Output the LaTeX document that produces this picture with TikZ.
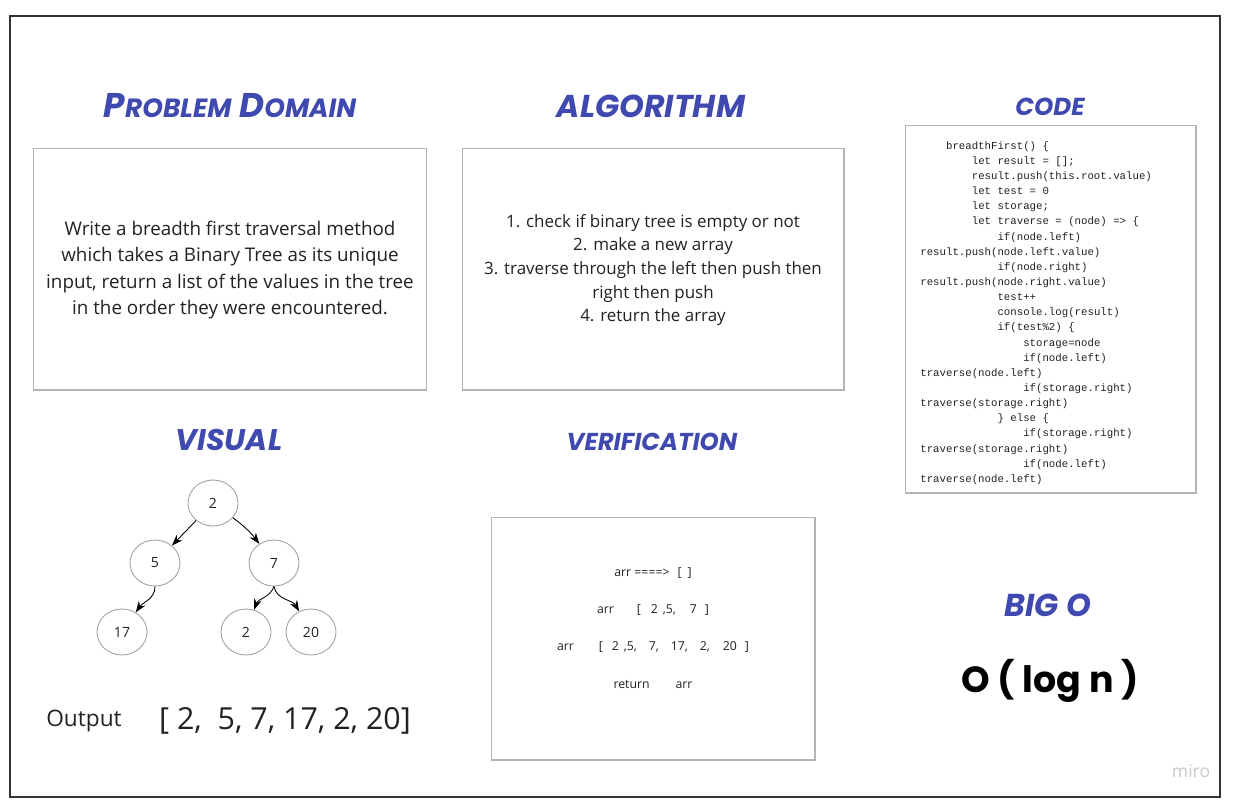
\documentclass[tikz,border=0pt]{standalone}
\usepackage{fontspec}
\setmainfont{Open Sans}
\setmonofont{Liberation Mono}
\newfontfamily\markerfont{Poppins}
\usetikzlibrary{arrows.meta,positioning,shapes.geometric}
\definecolor{boardInk}{HTML}{4049B0}
\definecolor{boardLine}{HTML}{B3B3B3}
\definecolor{boardFrame}{HTML}{333333}
\definecolor{boardText}{HTML}{222222}
\definecolor{boardMiro}{HTML}{C8C8C8}
\newcommand\codeind[1]{\hspace*{#1\fontcharwd\font`0}}
\newcommand\capsmall[1]{{\fontsize{15}{17}\selectfont #1}}
\newcommand\gap[1]{\hspace*{#1\dimexpr 0.567pt\relax}}

\begin{document}
\begin{tikzpicture}[x=0.02cm, y=-0.02cm]
\tikzset{card/.style={rectangle, draw=boardLine, fill=white, line width=0.6pt, inner sep=0pt},
 heading/.style={font=\markerfont\bfseries\itshape\fontsize{18}{20}\selectfont, text=boardInk, inner sep=0pt},
 bodytext/.style={font=\fontsize{10.7}{14.9}\selectfont, text=boardText, align=center},
 treenode/.style={ellipse, draw=boardLine!90!black, line width=0.5pt, minimum width=1.0cm,
   minimum height=0.92cm, inner sep=0pt, font=\fontsize{8}{9}\selectfont, text=boardText},
 arr/.style={-{Stealth[length=2.2mm, width=1.6mm]}, line width=0.5pt, draw=black}}

% board and frame
\useasboundingbox (0,0) rectangle (1239,806);
\draw[boardFrame, line width=1.1pt] (10,16) rectangle (1220,797);

% problem domain
\node[card, minimum width=7.88cm, minimum height=4.84cm] (pdbox) at (230,269) {};
\node[bodytext] (pdtext) at (230,270) {Write a breadth first traversal method\\
  which takes a Binary Tree as its unique\\
  input, return a list of the values in the tree\\
  in the order they were encountered.};
\node[heading, font=\markerfont\bfseries\itshape\fontsize{19.5}{21}\selectfont] (pdhead) at (230,106) {P\capsmall{ROBLEM} D\capsmall{OMAIN}};

% algorithm
\node[card, minimum width=7.64cm, minimum height=4.84cm] (algbox) at (653,269) {};
\node[bodytext, font=\fontsize{9.65}{13.4}\selectfont] (algtext) at (653,270) {1. check if binary tree is empty or not\\
  2. make a new array\\
  3. traverse through the left then push then\\
  right then push\\
  4. return the array};
\node[heading] (alghead) at (651,106) {ALGORITHM};

% code
\node[card, minimum width=5.82cm, minimum height=7.36cm] (codebox) at (1050.5,309) {};
\node[anchor=north west, align=left, inner sep=0pt, text=boardText,
  font=\ttfamily\fontsize{6.1}{8.62}\selectfont] (codetext) at (920,141) {%
\codeind{4}breadthFirst() \{\\
\codeind{8}let result = [];\\
\codeind{8}result.push(this.root.value)\\
\codeind{8}let test = 0\\
\codeind{8}let storage;\\
\codeind{8}let traverse = (node) => \{\\
\codeind{12}if(node.left)\\
result.push(node.left.value)\\
\codeind{12}if(node.right)\\
result.push(node.right.value)\\
\codeind{12}test++\\
\codeind{12}console.log(result)\\
\codeind{12}if(test\%2) \{\\
\codeind{16}storage=node\\
\codeind{16}if(node.left)\\
traverse(node.left)\\
\codeind{16}if(storage.right)\\
traverse(storage.right)\\
\codeind{12}\} else \{\\
\codeind{16}if(storage.right)\\
traverse(storage.right)\\
\codeind{16}if(node.left)\\
traverse(node.left)};
\node[heading, font=\markerfont\bfseries\itshape\fontsize{14}{16}\selectfont] (codehead) at (1050,107) {CODE};

% visual
\node[heading, font=\markerfont\bfseries\itshape\fontsize{17}{19}\selectfont] (vishead) at (229,440) {VISUAL};
\node[treenode] (t2) at (213,503) {2};
\node[treenode] (t5) at (155,563) {5};
\node[treenode] (t7) at (274,563) {7};
\node[treenode] (t17) at (122,632) {17};
\node[treenode] (t2b) at (246,632) {2};
\node[treenode] (t20) at (311,632) {20};
\draw[arr] (t2) -- (t5);
\draw[arr] (t2) to[bend left=8] (t7);
\draw[arr] (t5.south) to[out=-90, in=55] (t17);
\draw[arr] (t7.south) to[out=-110, in=70] (t2b);
\draw[arr] (t7.south) to[out=-80, in=120] (t20);
\node[text=boardText, font=\fontsize{12.9}{15}\selectfont] (outlabel) at (84,721) {Output};
\node[text=boardText, font=\fontsize{17.3}{20}\selectfont] (outvalue) at (285,721) {[ 2,\ \ 5, 7, 17, 2, 20]};

% verification
\node[card, minimum width=6.48cm, minimum height=4.86cm] (verbox) at (653,638.5) {};
\node[heading, font=\markerfont\bfseries\itshape\fontsize{13.9}{16}\selectfont] (verhead) at (652,442) {VERIFICATION};
\node[bodytext, font=\fontsize{7}{21.2}\selectfont] (vertext) at (653,628) {arr ====>\gap{8}[\gap{6}]\\
  arr\gap{23}[\gap{10}2\gap{5},5,\gap{14}7\gap{8}]\\
  arr\gap{25}[\gap{9}2\gap{5},5,\gap{12}7,\gap{12}17,\gap{12}2,\gap{13}20\gap{8}]\\
  return\gap{26}arr};

% big o
\node[heading] (bighead) at (1048,605) {BIG O};
\node[font=\markerfont\bfseries\fontsize{20.7}{24}\selectfont, text=black] (bigo) at (1050,681) {O ( log n )};

\node[text=boardMiro, font=\fontsize{10}{11}\selectfont] (miro) at (1191,771) {miro};
\end{tikzpicture}
\end{document}
